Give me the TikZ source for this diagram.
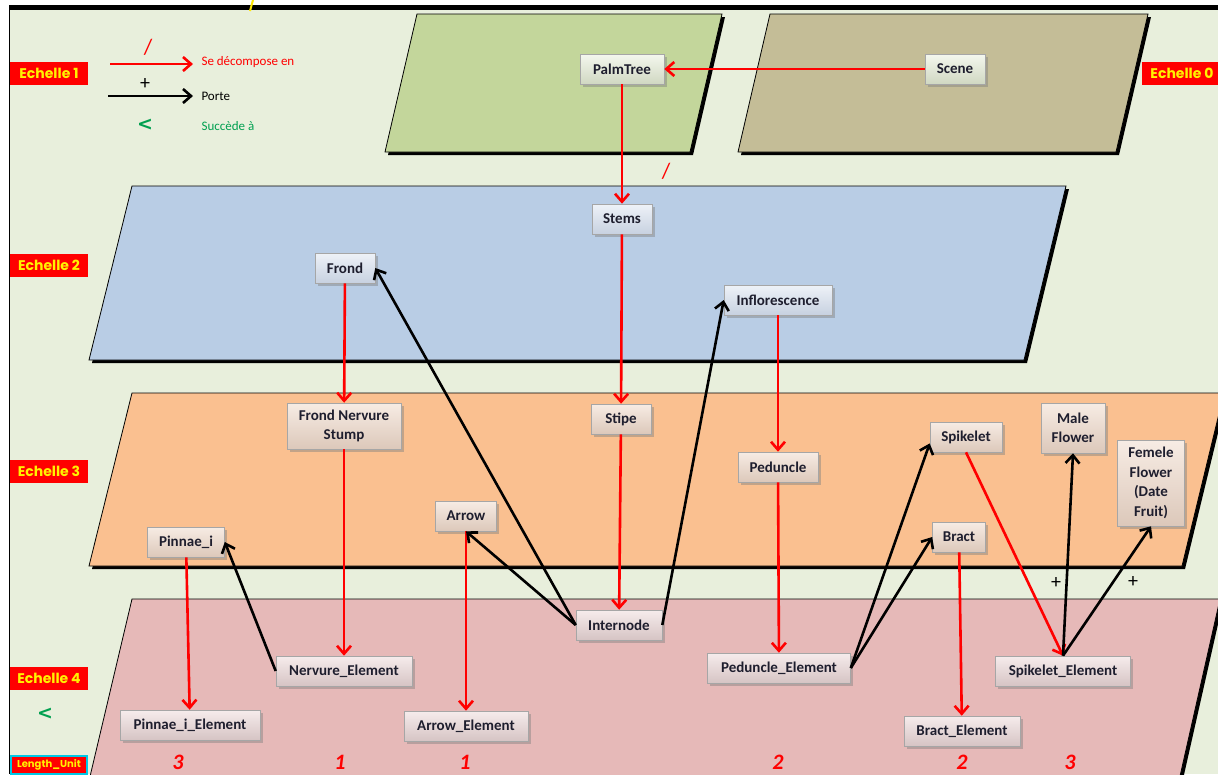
\documentclass[tikz,border=0pt]{standalone}
\usepackage{fontspec}
\setmainfont{Carlito}
\newfontfamily\echfont{Poppins}
\newfontfamily\symfont{DejaVu Sans}
\usetikzlibrary{arrows.meta,shadows}
\definecolor{bg}{HTML}{E8EFDC}
\definecolor{pgreen}{HTML}{C3D69B}
\definecolor{pkhaki}{HTML}{C4BD97}
\definecolor{pblue}{HTML}{B9CDE5}
\definecolor{porange}{HTML}{FAC090}
\definecolor{ppink}{HTML}{E6B9B8}
\definecolor{okgreen}{HTML}{00A050}
\definecolor{txt}{HTML}{1E1E2E}
\definecolor{aTop}{HTML}{F4F7EE}\definecolor{aBot}{HTML}{D0D8C2}
\definecolor{bTop}{HTML}{EEF2F8}\definecolor{bBot}{HTML}{C7D1E0}
\definecolor{cTop}{HTML}{F7ECE4}\definecolor{cBot}{HTML}{DCC8BA}
\definecolor{dTop}{HTML}{F6ECEC}\definecolor{dBot}{HTML}{D6C4C4}
\tikzset{
  btn/.style={draw=black!35, line width=0.6pt, font=\bfseries\fontsize{15}{19.5}\selectfont,
    text=txt, minimum height=30pt, inner xsep=3pt, inner ysep=2pt, align=center,
    drop shadow={shadow xshift=2.5pt, shadow yshift=-2.5pt, opacity=0.45}},
  bA/.style={btn, top color=aTop, bottom color=aBot},
  bB/.style={btn, top color=bTop, bottom color=bBot},
  bC/.style={btn, top color=cTop, bottom color=cBot},
  bD/.style={btn, top color=dTop, bottom color=dBot},
  ech/.style={fill=red, text=yellow, font=\echfont\bfseries\fontsize{14}{15}\selectfont,
    minimum width=78pt, minimum height=23pt, inner sep=0pt},
  decomp/.style={draw=red, line width=2.6pt, -{Straight Barb[length=8pt,width=14pt]}},
  porte/.style={draw=black, line width=2.6pt, -{Straight Barb[length=8pt,width=14pt]}},
  numlbl/.style={text=red, font=\bfseries\itshape\fontsize{22}{22}\selectfont},
  plane/.style={draw=black, line width=0.8pt},
  ltsym/.style={text=okgreen, font=\symfont\bfseries\fontsize{19}{19}\selectfont},
}
\begin{document}
\begin{tikzpicture}[x=1pt,y=-1pt]
\useasboundingbox (0,0) rectangle (1218,774);
\clip (0,0) rectangle (1218,774);
\fill[white] (0,0) rectangle (1218,774);
\fill[bg] (9,7) rectangle (1218,774);
% frame
\draw[line width=5pt] (9,7.5) -- (1218,7.5);
\draw[line width=1.5pt] (9.5,5) -- (9.5,774);
\draw[yellow!90!orange, line width=2pt] (253,0) -- (250,11);
% planes (shadow + fill)
\fill[black, shift={(3,3)}] (417,14)--(722,14)--(690,152)--(385,152)--cycle;
\filldraw[plane, fill=pgreen] (417,14)--(722,14)--(690,152)--(385,152)--cycle;
\fill[black, shift={(3,3)}] (770,14)--(1148,14)--(1116,152)--(738,152)--cycle;
\filldraw[plane, fill=pkhaki] (770,14)--(1148,14)--(1116,152)--(738,152)--cycle;
\fill[black, shift={(3,3)}] (132,186)--(1066,186)--(1024,360)--(89,360)--cycle;
\filldraw[plane, fill=pblue] (132,186)--(1066,186)--(1024,360)--(89,360)--cycle;
\fill[black, shift={(3,3)}] (132,393)--(1224,393)--(1182,566)--(89,566)--cycle;
\filldraw[plane, fill=porange] (132,393)--(1224,393)--(1182,566)--(89,566)--cycle;
\fill[black, shift={(3,3)}] (132,599)--(1220,599)--(1178,785)--(88,785)--cycle;
\filldraw[plane, fill=ppink] (132,599)--(1220,599)--(1178,785)--(88,785)--cycle;
% scale labels
\node[ech] (e1) at (49,73) {Echelle 1};
\node[ech, minimum width=80pt] (e0) at (1182,73) {Echelle 0};
\node[ech] (e2) at (49,265) {Echelle 2};
\node[ech] (e3) at (49,471) {Echelle 3};
\node[ech] (e4) at (49,678) {Echelle 4};
\node[ltsym] (lt4) at (45,714) {<};
\node[draw={rgb,255:red,0;green,200;blue,230}, line width=1.5pt, fill=red, text=yellow,
  font=\echfont\bfseries\fontsize{10}{11}\selectfont, minimum width=76pt, minimum height=18pt,
  inner sep=0pt] (lu) at (49,765) {Length\_Unit};
% legend
\coordinate (la1) at (110,64); \coordinate (lb1) at (193,64);
\coordinate (la2) at (108,96); \coordinate (lb2) at (193,96);
\draw[decomp] (la1) -- (lb1);
\draw[porte] (la2) -- (lb2);
\node[text=red, font=\fontsize{22}{22}\selectfont] (ls1) at (148,47) {/};
\node[font=\fontsize{20}{20}\selectfont] (ls2) at (145,84) {+};
\node[ltsym] (ls3) at (145,125) {<};
\node[anchor=west, text=red, font=\fontsize{13}{13}\selectfont] (lt1) at (198,62) {Se décompose en};
\node[anchor=west, font=\fontsize{13}{13}\selectfont] (lt2) at (198,96) {Porte};
\node[anchor=west, text=okgreen, font=\fontsize{13}{13}\selectfont] (lt3) at (198,126) {Succède à};
% nodes
\node[bA, minimum width=84pt] (PalmTree) at (622,69) {PalmTree};
\node[bA, minimum width=60pt] (Scene) at (955,69) {Scene};
\node[bB, minimum width=60pt] (Stems) at (622,219) {Stems};
\node[bB, minimum width=60pt] (Frond) at (345,268) {Frond};
\node[bB, minimum width=108pt] (Inflorescence) at (778,300) {Inflorescence};
\node[bC, minimum width=114pt, minimum height=46pt] (FNS) at (344,426) {Frond Nervure\\Stump};
\node[bC, minimum width=60pt] (Stipe) at (621,419) {Stipe};
\node[bC, minimum width=80pt] (Peduncle) at (778,467) {Peduncle};
\node[bC, minimum width=72pt] (Spikelet) at (966,437) {Spikelet};
\node[bC, minimum width=64pt, minimum height=50pt] (Male) at (1073,428) {Male\\Flower};
\node[bC, minimum width=67pt, minimum height=86pt] (Femele) at (1151,483) {Femele\\Flower\\(Date\\Fruit)};
\node[bC, minimum width=53pt] (Bract) at (959,537) {Bract};
\node[bC, minimum width=61pt] (Arrow) at (466,516) {Arrow};
\node[bC, minimum width=77pt] (Pinnae) at (186,542) {Pinnae\_i};
\node[bD, minimum width=86pt] (Internode) at (619,625) {Internode};
\node[bD, minimum width=136pt] (NervEl) at (344,671) {Nervure\_Element};
\node[bD, minimum width=143pt] (PedEl) at (779,668) {Peduncle\_Element};
\node[bD, minimum width=135pt] (SpikEl) at (1063,671) {Spikelet\_Element};
\node[bD, minimum width=140pt] (PinEl) at (190,725) {Pinnae\_i\_Element};
\node[bD, minimum width=124pt] (ArrEl) at (466,726) {Arrow\_Element};
\node[bD, minimum width=116pt] (BractEl) at (962,731) {Bract\_Element};
% decomposition connectors
\draw[decomp] (Scene) -- (PalmTree);
\draw[decomp] (PalmTree) -- (Stems);
\draw[decomp] (Stems) -- (Stipe);
\draw[decomp] (Stipe) -- (Internode);
\draw[decomp] (Frond) -- (FNS);
\draw[decomp] (FNS) -- (NervEl);
\draw[decomp] (Inflorescence) -- (Peduncle);
\draw[decomp] (Peduncle) -- (PedEl);
\draw[decomp] (Pinnae) -- (PinEl);
\draw[decomp] (Arrow) -- (ArrEl);
\draw[decomp] (Bract) -- (BractEl);
\draw[decomp] (Spikelet.south) -- (SpikEl.north);
% carrying connectors
\draw[porte] (Internode.west) -- (Frond.east);
\draw[porte] (Internode.west) -- (Arrow.south);
\draw[porte] (Internode.east) -- (Inflorescence.west);
\draw[porte] (NervEl.west) -- (Pinnae.east);
\draw[porte] (PedEl.east) -- (Spikelet.190);
\draw[porte] (PedEl.east) -- (Bract.west);
\draw[porte] (SpikEl.north) -- (Male.south);
\draw[porte] (SpikEl.north) -- (Femele.south);
% small labels
\node[text=red, font=\fontsize{22}{22}\selectfont] (sl) at (666,171) {/};
\node[font=\fontsize{20}{20}\selectfont] (p1) at (1056,583) {+};
\node[font=\fontsize{20}{20}\selectfont] (p2) at (1133,582) {+};
% bottom numbers
\node[numlbl] (n1) at (178,762) {3};
\node[numlbl] (n2) at (340,762) {1};
\node[numlbl] (n3) at (465,762) {1};
\node[numlbl] (n4) at (778,762) {2};
\node[numlbl] (n5) at (962,762) {2};
\node[numlbl] (n6) at (1070,762) {3};
\end{tikzpicture}
\end{document}
